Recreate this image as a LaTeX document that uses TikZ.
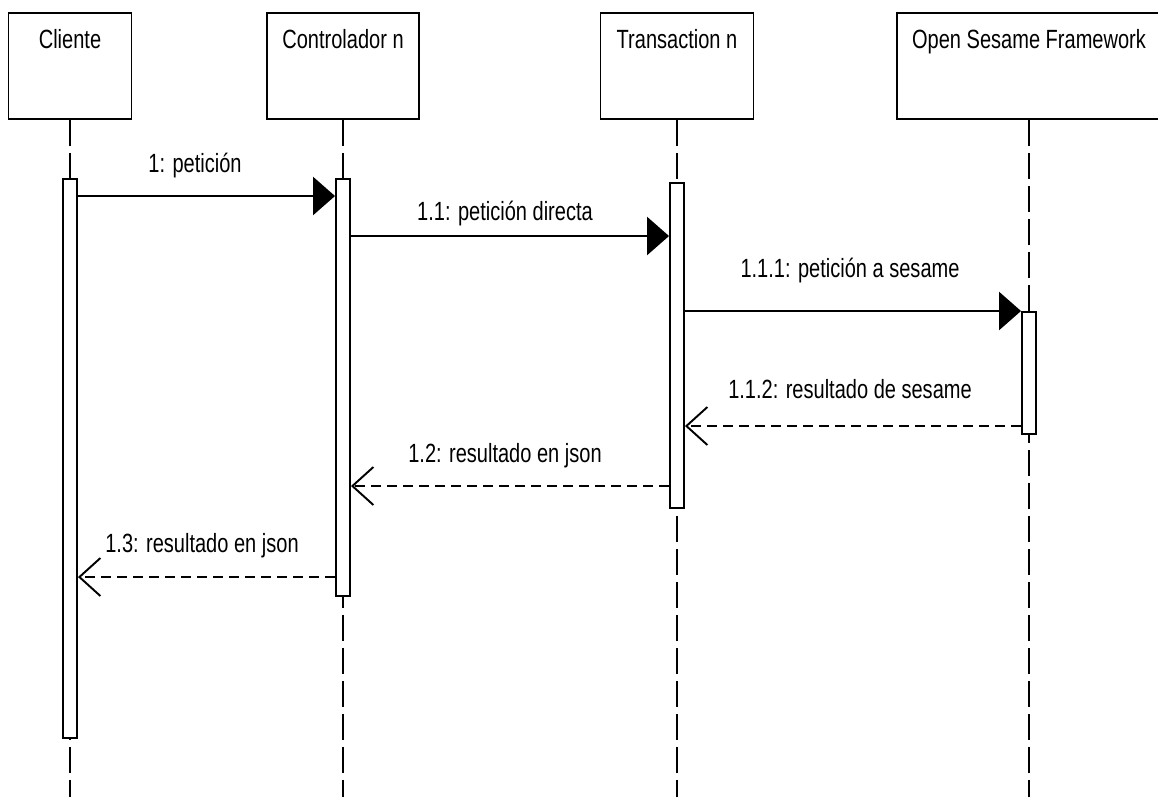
\documentclass[tikz,border=0pt]{standalone}
\usepackage{fontspec}
\setmainfont[FakeStretch=0.76]{Liberation Sans}
\usetikzlibrary{arrows.meta,positioning}
\tikzset{
  seq/head/.style={
    draw=black,
    line width=1.1pt,
    fill=white,
    anchor=north,
    minimum height=2.12cm,
    inner xsep=0pt,
    inner ysep=6pt,
    text height=13.9pt,
    text depth=34.2pt,
    font=\fontsize{15}{18}\selectfont
  },
  seq/bar/.style={
    draw=black,
    line width=1.1pt,
    fill=white,
    anchor=north,
    minimum width=0.28cm,
    inner sep=0pt
  },
  seq/label/.style={anchor=base, inner sep=0pt, font=\fontsize{15}{18}\selectfont},
  seq/life/.style={line width=1.1pt, dash pattern=on 0.52cm off 0.14cm},
  seq/call/.style={-{Triangle[length=0.44cm,width=0.76cm]}, line width=1.4pt},
  seq/reply/.style={-{Straight Barb[length=0.42cm,width=0.76cm,line width=1.1pt]}, line width=1.3pt, dash pattern=on 0.2cm off 0.12cm}
}

\begin{document}
\begin{tikzpicture}[x=0.02cm,y=-0.02cm]
  \useasboundingbox (0,0) rectangle (1158,796);
  \coordinate (bottom) at (0,800);

  \node[seq/head,minimum width=2.46cm] (cli) at (70,12) {Cliente};
  \node[seq/head,minimum width=3.04cm] (ctrl) at (343,12) {Controlador n};
  \node[seq/head,minimum width=3.06cm] (trans) at (677,12) {Transaction n};
  \node[seq/head,minimum width=5.28cm] (ses) at (1029,12) {Open Sesame Framework};

  \draw[seq/life] (cli.south) -- (cli.south |- bottom);
  \draw[seq/life] (ctrl.south) -- (ctrl.south |- bottom);
  \draw[seq/life] (trans.south) -- (trans.south |- bottom);
  \draw[seq/life] (ses.south) -- (ses.south |- bottom);

  \node[seq/bar,minimum height=11.18cm] (cliBar) at (70,178) {};
  \node[seq/bar,minimum height=8.34cm] (ctrlBar) at (343,178) {};
  \node[seq/bar,minimum height=6.5cm] (transBar) at (677,182) {};
  \node[seq/bar,minimum height=2.44cm] (sesBar) at (1029,311) {};

  \coordinate (m1) at (0,196);
  \coordinate (m2) at (0,236);
  \coordinate (m3) at (0,311);
  \coordinate (m4) at (0,426);
  \coordinate (m5) at (0,486);
  \coordinate (m6) at (0,577);

  \draw[seq/call] (cliBar.east |- m1) -- (ctrlBar.west |- m1);
  \draw[seq/call] (ctrlBar.east |- m2) -- (transBar.west |- m2);
  \draw[seq/call] (transBar.east |- m3) -- (sesBar.west |- m3);
  \draw[seq/reply] (sesBar.west |- m4) -- (transBar.east |- m4);
  \draw[seq/reply] (transBar.west |- m5) -- (ctrlBar.east |- m5);
  \draw[seq/reply] (ctrlBar.west |- m6) -- (cliBar.east |- m6);

  \node[seq/label] (l1) at (195,172) {1: petición};
  \node[seq/label] (l2) at (505,220) {1.1: petición directa};
  \node[seq/label] (l3) at (850,277) {1.1.1: petición a sesame};
  \node[seq/label] (l4) at (850,398) {1.1.2: resultado de sesame};
  \node[seq/label] (l5) at (505,462) {1.2: resultado en json};
  \node[seq/label] (l6) at (202,552) {1.3: resultado en json};
\end{tikzpicture}
\end{document}
